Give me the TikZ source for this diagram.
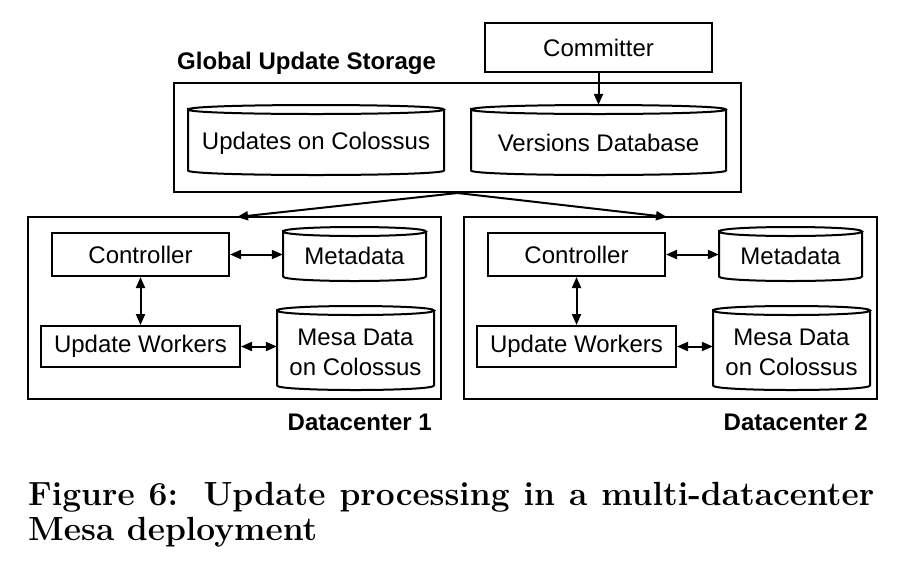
\documentclass[tikz,border=0pt]{standalone}
\usepackage{fontspec}
\newfontfamily\arial{Liberation Sans}
\usetikzlibrary{arrows.meta,calc}
\tikzset{
  ln/.style={line width=2pt, line join=miter},
  sansfont/.style={font=\arial\fontsize{24}{30}\selectfont},
  box/.style={draw, ln, rectangle, inner sep=0pt, sansfont},
  cylbox/.style={rectangle, inner sep=0pt},
  cyltxt/.style={inner sep=0pt, sansfont, align=center},
  lbl/.style={inner sep=0pt, font=\arial\bfseries\fontsize{24}{28}\selectfont},
  captxt/.style={inner sep=0pt, font=\normalfont\bfseries\fontsize{33.5}{36}\selectfont},
  arr/.style={ln, -{Triangle[length=11pt,width=9pt]}},
  darr/.style={ln, {Triangle[length=11pt,width=9pt]}-{Triangle[length=11pt,width=9pt]}},
}
% name, x1, ytop, x2, ybottom, text, text drop
\newcommand\dbcyl[7]{%
  \node[cylbox, minimum width={(#4)-(#2)}, minimum height={(#5)-(#3)}] (#1)
    at ({((#2)+(#4))/2},{((#3)+(#5))/2}) {};
  \node[cyltxt] (#1txt) at ($(#1.center)+(0,#7)$) {#6};
  \draw[ln] (#2,{#3+4.5}) .. controls (#2,{#3-1.5}) and (#4,{#3-1.5}) .. (#4,{#3+4.5})
    .. controls (#4,{#3+10.5}) and (#2,{#3+10.5}) .. (#2,{#3+4.5})
    -- (#2,{#5-4.5}) .. controls (#2,{#5+1.5}) and (#4,{#5+1.5}) .. (#4,{#5-4.5})
    -- (#4,{#3+4.5});
}
% datacenter: suffix, x offset, label
\newcommand\dcenter[3]{%
  \node[box, minimum width=413pt, minimum height=182pt] (dc#1) at ({234.5+#2},308) {};
  \node[box, minimum width=177pt, minimum height=43pt] (ctrl#1) at ({140.5+#2},254.5) {Controller};
  \node[box, minimum width=199pt, minimum height=41pt] (uw#1) at ({140.5+#2},346.5) {Update Workers};
  \dbcyl{meta#1}{283+#2}{227}{426+#2}{281}{Metadata}{2}
  \dbcyl{mesa#1}{277+#2}{306}{434+#2}{390}{Mesa Data\\on Colossus}{4}
  \draw[darr] (ctrl#1.east) -- (ctrl#1.east -| meta#1.west);
  \draw[darr] (ctrl#1.south) -- (uw#1.north);
  \draw[darr] (uw#1.east) -- (uw#1.east -| mesa#1.west);
  \node[lbl, anchor=base east] (dclbl#1) at ({432+#2},430) {#3};
}
\begin{document}
\begin{tikzpicture}[x=1pt,y=-1pt]
  \useasboundingbox[fill=white] (0,0) rectangle (904,566);
  % global storage
  \node[lbl, anchor=base west] (globlbl) at (177,69) {Global Update Storage};
  \node[box, minimum width=227pt, minimum height=49pt] (comm) at (598.5,47.5) {Committer};
  \node[box, minimum width=567pt, minimum height=109pt] (glob) at (457.5,137.5) {};
  \dbcyl{upd}{188}{105}{444}{175}{Updates on Colossus}{3}
  \dbcyl{vdb}{471}{105}{726}{175}{Versions Database}{3}
  \draw[arr] (comm.south) -- (vdb.north);
  % datacenters
  \dcenter{1}{0}{Datacenter 1}
  \dcenter{2}{436}{Datacenter 2}
  \coordinate (in1) at (237,217);
  \coordinate (in2) at (667,217);
  \draw[arr] (glob.south) -- (in1);
  \draw[arr] (glob.south) -- (in2);
  % caption
  \node[captxt, anchor=base west] (cap1) at (28,505)
    {\makebox[846pt][s]{Figure 6:\hspace{6pt} Update processing in a multi-datacenter}};
  \node[captxt, anchor=base west] (cap2) at (28,540) {Mesa deployment};
\end{tikzpicture}
\end{document}
